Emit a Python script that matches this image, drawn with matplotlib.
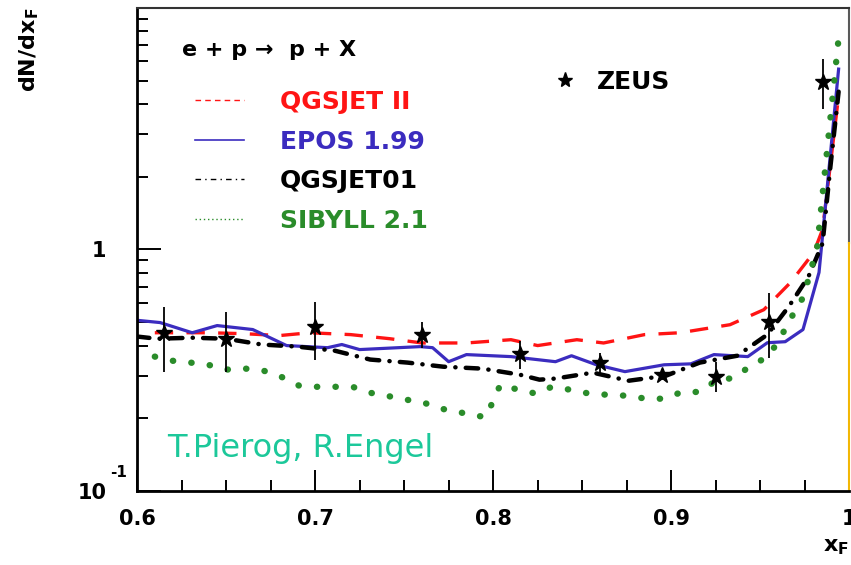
import matplotlib
matplotlib.use("Agg")
import matplotlib.pyplot as plt
from matplotlib.lines import Line2D
from matplotlib.ticker import LogLocator, FixedLocator, MultipleLocator, NullFormatter

# ZEUS data points (x_F, dN/dx_F, error low, error high)
zeus_x = [0.615, 0.650, 0.700, 0.760, 0.815, 0.860, 0.895, 0.925, 0.955, 0.985]
zeus_y = [0.452, 0.427, 0.479, 0.444, 0.370, 0.340, 0.303, 0.297, 0.503, 4.93]
zeus_lo = [0.312, 0.312, 0.350, 0.392, 0.321, 0.303, 0.289, 0.258, 0.356, 3.81]
zeus_hi = [0.580, 0.553, 0.608, 0.503, 0.419, 0.374, 0.318, 0.343, 0.663, 6.14]

# QGSJET II
qgs2_x = [0.610, 0.640, 0.660, 0.680, 0.697, 0.720, 0.742, 0.760, 0.785, 0.810,
          0.825, 0.847, 0.862, 0.885, 0.905, 0.933, 0.952, 0.967, 0.980, 0.985, 0.994]
qgs2_y = [0.452, 0.452, 0.448, 0.440, 0.452, 0.444, 0.427, 0.410, 0.410, 0.423,
          0.400, 0.423, 0.410, 0.444, 0.452, 0.488, 0.563, 0.730, 0.970, 1.21, 4.32]

# EPOS 1.99
epos_x = [0.600, 0.613, 0.631, 0.645, 0.665, 0.684, 0.707, 0.715, 0.725, 0.759,
          0.766, 0.775, 0.785, 0.810, 0.835, 0.844, 0.858, 0.874, 0.896, 0.911,
          0.924, 0.943, 0.954, 0.964, 0.974, 0.983, 0.994]
epos_y = [0.509, 0.498, 0.452, 0.484, 0.466, 0.400, 0.392, 0.404, 0.385, 0.396,
          0.392, 0.343, 0.367, 0.360, 0.343, 0.363, 0.333, 0.312, 0.333, 0.336,
          0.367, 0.360, 0.411, 0.415, 0.466, 0.803, 5.58]

# QGSJET01
qgs1_x = [0.600, 0.611, 0.631, 0.650, 0.670, 0.690, 0.711, 0.731, 0.752, 0.772,
          0.794, 0.815, 0.826, 0.835, 0.856, 0.876, 0.897, 0.916, 0.937, 0.954,
          0.966, 0.977, 0.985, 0.989, 0.994]
qgs1_y = [0.436, 0.427, 0.431, 0.427, 0.404, 0.396, 0.381, 0.350, 0.340, 0.327,
          0.321, 0.303, 0.289, 0.292, 0.309, 0.286, 0.300, 0.340, 0.363, 0.444,
          0.580, 0.770, 1.06, 2.07, 4.5]

# SIBYLL 2.1
sib_x = [0.610, 0.620, 0.630, 0.640, 0.650, 0.661, 0.671, 0.681, 0.691, 0.701,
         0.710, 0.721, 0.731, 0.740, 0.751, 0.761, 0.771, 0.780, 0.789, 0.796,
         0.800, 0.804, 0.813, 0.824, 0.833, 0.844, 0.854, 0.865, 0.875, 0.886,
         0.896, 0.906, 0.916, 0.925, 0.935, 0.944, 0.953, 0.960, 0.964, 0.969,
         0.974, 0.977, 0.982, 0.994]
sib_y = [0.360, 0.346, 0.340, 0.333, 0.318, 0.321, 0.315, 0.297, 0.273, 0.270,
         0.270, 0.270, 0.255, 0.248, 0.239, 0.232, 0.219, 0.213, 0.205, 0.203,
         0.236, 0.275, 0.264, 0.253, 0.270, 0.262, 0.253, 0.250, 0.248, 0.241,
         0.241, 0.257, 0.257, 0.286, 0.294, 0.327, 0.356, 0.411, 0.470, 0.548,
         0.632, 0.751, 1.03, 7.5]

red = "#ff1414"
blue = "#3b2cbf"
green = "#2a8c2a"
teal = "#1cc89a"

fig = plt.figure(figsize=(8.51, 5.65), dpi=100)
ax = fig.add_axes([0.161, 0.131, 0.837, 0.855])

ax.plot(qgs2_x, qgs2_y, color=red, lw=2.4, linestyle=(0, (5.5, 4.0)))
ax.plot(epos_x, epos_y, color=blue, lw=2.3)
ax.plot(qgs1_x, qgs1_y, color="black", lw=3.2,
        linestyle=(0, (2.8, 2.3, 0.05, 2.3)), dash_capstyle="round")
ax.plot(sib_x, sib_y, color=green, lw=4.6, linestyle=(0, (0.05, 2.85)),
        dash_capstyle="round")

yerr = [[y - lo for y, lo in zip(zeus_y, zeus_lo)],
        [hi - y for y, hi in zip(zeus_y, zeus_hi)]]
ax.errorbar(zeus_x, zeus_y, yerr=yerr, fmt="*", color="black", ms=12,
            elinewidth=1.3, capsize=0, zorder=5)

ax.set_xlim(0.6, 1.0)
ax.set_yscale("log")
ax.set_ylim(0.1, 10)

ax.xaxis.set_minor_locator(MultipleLocator(0.025))
ax.set_xticks([0.6, 0.7, 0.8, 0.9, 1.0])
ax.set_xticklabels(["0.6", "0.7", "0.8", "0.9", "1"])
ax.yaxis.set_major_locator(FixedLocator([0.1, 1.0]))
ax.yaxis.set_minor_locator(LogLocator(base=10, subs=range(2, 10)))
ax.yaxis.set_minor_formatter(NullFormatter())
ax.set_yticklabels(["10", "1"])

ax.tick_params(which="both", direction="in", top=False, right=False, width=1.4,
               labelsize=15)
ax.tick_params(axis="x", which="major", length=15, pad=13)
ax.tick_params(axis="x", which="minor", length=8)
ax.tick_params(axis="y", which="major", length=17, pad=22)
ax.tick_params(axis="y", which="minor", length=8)
for lab in ax.get_xticklabels() + ax.get_yticklabels():
    lab.set_fontweight("bold")

ax.annotate("-1", xy=(0, 0), xycoords="axes fraction", xytext=(-13.5, 13.5),
            textcoords="offset points", ha="center", va="center",
            fontsize=11, fontweight="bold")

ax.spines["right"].set_visible(False)
ax.spines["left"].set_linewidth(2)
ax.spines["bottom"].set_linewidth(2)
ax.spines["top"].set_linewidth(1.5)
ax.spines["top"].set_color("0.2")
ax.axvline(1.0, ymin=0.513, ymax=1.0, color="0.35", lw=1.5, clip_on=False)
ax.axvline(1.0, ymin=0.0, ymax=0.513, color="#f2b705", lw=1.5, clip_on=False)

ax.set_ylabel("dN/dx$_{\\mathregular{F}}$", loc="top", fontsize=16,
              fontweight="bold", labelpad=26)
ax.set_xlabel("x$_{\\mathregular{F}}$", loc="right", fontsize=16,
              fontweight="bold", labelpad=6)

ax.text(0.063, 0.913, "e + p \u2192  p + X", transform=ax.transAxes,
        fontsize=16, fontweight="bold", va="center", ha="left")

handles = [
    Line2D([], [], color=red, lw=1.0, linestyle=(0, (4, 3))),
    Line2D([], [], color=blue, lw=1.2),
    Line2D([], [], color="black", lw=1.0, linestyle=(0, (4, 3, 1, 3))),
    Line2D([], [], color=green, lw=1.0, linestyle=(0, (1, 2))),
]
labels = ["QGSJET II", "EPOS 1.99", "QGSJET01", "SIBYLL 2.1"]
leg = ax.legend(handles, labels, loc="upper left", bbox_to_anchor=(0.0815, 0.83),
                frameon=False, borderpad=0, borderaxespad=0, handlelength=1.95,
                handletextpad=1.45, labelspacing=0.62,
                prop={"size": 18, "weight": "bold"})
for txt, col in zip(leg.get_texts(), [red, blue, "black", green]):
    txt.set_color(col)
ax.add_artist(leg)

zh = Line2D([], [], color="black", marker="*", linestyle="none", ms=11)
ax.legend([zh], ["ZEUS"], loc="center left", bbox_to_anchor=(0.583, 0.847),
          frameon=False, borderpad=0, borderaxespad=0, handlelength=1.0,
          handletextpad=0.8, prop={"size": 18, "weight": "bold"})

ax.text(0.042, 0.088, "T.Pierog, R.Engel", transform=ax.transAxes,
        fontsize=23, color=teal, va="center", ha="left")

fig.savefig("out.png", dpi=100)
